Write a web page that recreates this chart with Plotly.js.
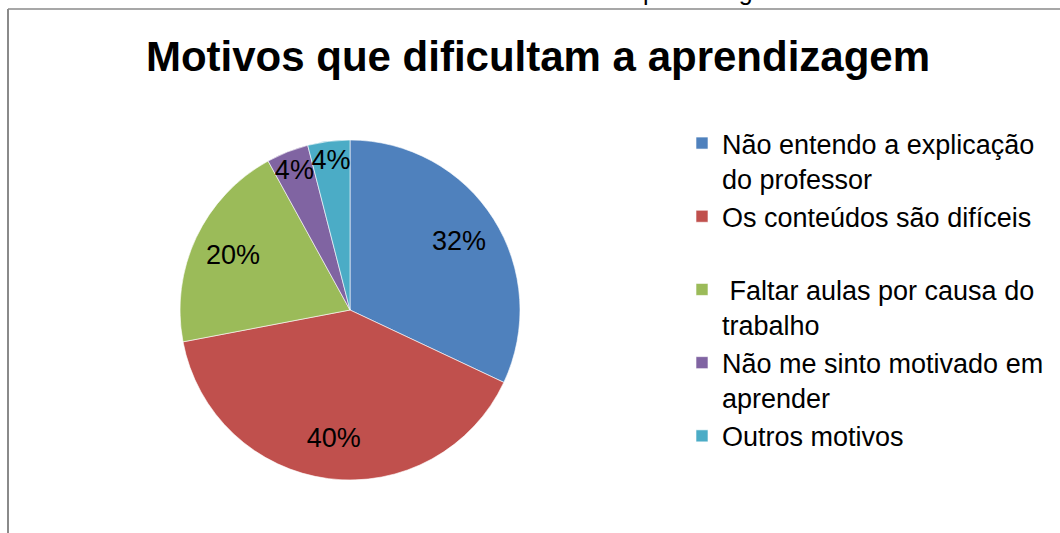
<!DOCTYPE html>
<html>
<head>
<meta charset="utf-8">
<script src="https://cdn.plot.ly/plotly-3.0.1.min.js"></script>
<style>
html,body{margin:0;padding:0;background:#fff;overflow:hidden;}
#chart{width:1060px;height:533px;}
</style>
</head>
<body>
<div id="chart"></div>
<script>
const categories = [
  "Não entendo a explicação<br>do professor",
  "Os conteúdos são difíceis<br> ",
  " Faltar aulas por causa do<br>trabalho",
  "Não me sinto motivado em<br>aprender",
  "Outros motivos"
];
const values = [32, 40, 20, 4, 4];
const colors = ["#4F81BD", "#C0504D", "#9BBB59", "#8064A2", "#4BACC6"];
const titleText = "Motivos que dificultam a aprendizagem";

const W = 1060, H = 533;
const px = x => x / W;
const py = y => 1 - y / H;
const FONT = "Liberation Sans, Arial, sans-serif";
const pieDomain = {x: [px(180), px(520)], y: [py(480), py(140)]};

const data = [{
  type: "pie",
  labels: categories,
  values: values,
  sort: false,
  direction: "clockwise",
  rotation: 0,
  marker: {colors: colors, line: {color: "#ffffff", width: 0.6}},
  textinfo: "none",
  hoverinfo: "label+percent",
  domain: pieDomain
}, {
  // label layer: same data, ring geometry so percentages sit near the rim
  type: "pie",
  labels: categories,
  values: values,
  sort: false,
  direction: "clockwise",
  rotation: 0,
  hole: 0.52,
  showlegend: false,
  marker: {colors: colors.map(() => "rgba(0,0,0,0)"), line: {width: 0}},
  textinfo: "percent",
  texttemplate: "%{percent:.0%}",
  textposition: "inside",
  insidetextorientation: "horizontal",
  insidetextfont: {family: FONT, size: 27, color: "#000"},
  hoverinfo: "skip",
  domain: pieDomain
}];

const layout = {
  width: W, height: H,
  margin: {l: 0, r: 0, t: 0, b: 0},
  paper_bgcolor: "#fff",
  plot_bgcolor: "#fff",
  font: {family: FONT, color: "#000"},
  uniformtext: {minsize: 27, mode: "show"},
  title: {
    text: "<b>" + titleText + "</b>",
    font: {family: FONT, size: 42, color: "#000"},
    x: px(538), xanchor: "center",
    y: py(56), yanchor: "middle"
  },
  showlegend: true,
  legend: {
    x: px(682), xanchor: "left",
    y: py(119), yanchor: "top",
    valign: "top",
    font: {family: FONT, size: 27, color: "#000"},
    itemwidth: 30,
    bgcolor: "rgba(0,0,0,0)"
  },
  shapes: [
    {type: "line", xref: "paper", yref: "paper", x0: px(8), x1: px(8), y0: 0, y1: py(9), line: {color: "#8a8a8a", width: 2}},
    {type: "line", xref: "paper", yref: "paper", x0: px(8), x1: 1, y0: py(9), y1: py(9), line: {color: "#8a8a8a", width: 1.5}}
  ],
  annotations: [
    {text: "aprendizagem", xref: "paper", yref: "paper", x: px(627), xanchor: "left", y: 1, yanchor: "middle", yshift: 9, showarrow: false, font: {family: FONT, size: 25, color: "#000"}}
  ]
};

Plotly.newPlot("chart", data, layout, {displayModeBar: false, staticPlot: true});
</script>
</body>
</html>
